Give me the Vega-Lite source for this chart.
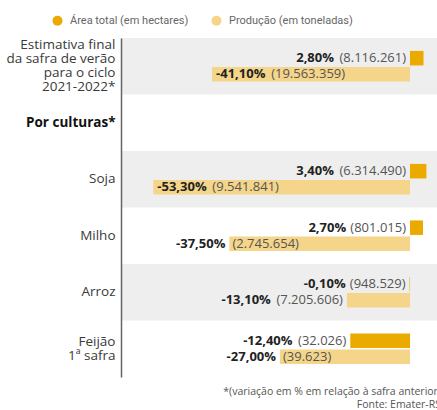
{
  "$schema": "https://vega.github.io/schema/vega-lite/v6.json",
  "width": 316,
  "height": 339,
  "autosize": {"type": "none"},
  "padding": {"left": 121, "top": 38, "right": 0, "bottom": 33},
  "background": "white",
  "config": {"view": {"stroke": null}, "font": "Open Sans"},
  "title": {
    "text": ["*(variação em % em relação à safra anterior)", "Fonte: Emater-RS"],
    "orient": "bottom",
    "anchor": "end",
    "fontSize": 10.5,
    "fontWeight": "normal",
    "color": "#555555",
    "font": "Open Sans",
    "offset": 10,
    "lineHeight": 13,
    "dx": 4
  },
  "datasets": {
    "rows": [
      {"row": "Estimativa final|da safra de verão|para o ciclo|2021-2022*", "shade": true},
      {"row": "Por culturas*", "shade": false},
      {"row": "Soja", "shade": true},
      {"row": "Milho", "shade": false},
      {"row": "Arroz", "shade": true},
      {"row": "Feijão|1ª safra", "shade": false}
    ],
    "bars": [
      {"row": "Estimativa final|da safra de verão|para o ciclo|2021-2022*", "series": "Área total (em hectares)", "value": 2.8, "pct": "2,80%", "num": "(8.116.261)"},
      {"row": "Estimativa final|da safra de verão|para o ciclo|2021-2022*", "series": "Produção (em toneladas)", "value": -41.1, "pct": "-41,10%", "num": "(19.563.359)"},
      {"row": "Soja", "series": "Área total (em hectares)", "value": 3.4, "pct": "3,40%", "num": "(6.314.490)"},
      {"row": "Soja", "series": "Produção (em toneladas)", "value": -53.3, "pct": "-53,30%", "num": "(9.541.841)"},
      {"row": "Milho", "series": "Área total (em hectares)", "value": 2.7, "pct": "2,70%", "num": "(801.015)"},
      {"row": "Milho", "series": "Produção (em toneladas)", "value": -37.5, "pct": "-37,50%", "num": "(2.745.654)"},
      {"row": "Arroz", "series": "Área total (em hectares)", "value": -0.1, "pct": "-0,10%", "num": "(948.529)"},
      {"row": "Arroz", "series": "Produção (em toneladas)", "value": -13.1, "pct": "-13,10%", "num": "(7.205.606)"},
      {"row": "Feijão|1ª safra", "series": "Área total (em hectares)", "value": -12.4, "pct": "-12,40%", "num": "(32.026)"},
      {"row": "Feijão|1ª safra", "series": "Produção (em toneladas)", "value": -27.0, "pct": "-27,00%", "num": "(39.623)"}
    ]
  },
  "encoding": {
    "y": {
      "field": "row",
      "type": "nominal",
      "sort": null,
      "scale": {
        "domain": [
          "Estimativa final|da safra de verão|para o ciclo|2021-2022*",
          "Por culturas*",
          "Soja",
          "Milho",
          "Arroz",
          "Feijão|1ª safra"
        ],
        "paddingInner": 0,
        "paddingOuter": 0
      },
      "axis": {
        "title": null,
        "ticks": false,
        "domainColor": "#666666",
        "domainWidth": 1.5,
        "labelFont": "Open Sans",
        "labelFontSize": 13.5,
        "labelColor": {"condition": {"test": "datum.value === 'Por culturas*'", "value": "#111111"}, "value": "#3a3a3a"},
        "labelFontWeight": {"condition": {"test": "datum.value === 'Por culturas*'", "value": "bold"}, "value": "normal"},
        "labelOffset": {"condition": [
          {"test": "datum.value === 'Estimativa final|da safra de verão|para o ciclo|2021-2022*'", "value": -21},
          {"test": "datum.value === 'Feijão|1ª safra'", "value": -7}
        ], "value": 0},
        "labelPadding": 6,
        "labelLimit": 200,
        "labelLineHeight": 14,
        "labelExpr": "split(datum.label, '|')"
      }
    }
  },
  "layer": [
    {
      "data": {"name": "rows"},
      "transform": [{"filter": "datum.shade"}],
      "mark": {"type": "rect", "color": "#EEEEEE"}
    },
    {
      "data": {"name": "bars"},
      "mark": {"type": "bar"},
      "encoding": {
        "x": {"field": "value", "type": "quantitative", "scale": {"domain": [-60, 5.6], "nice": false, "zero": false}, "axis": null},
        "x2": {"datum": 0},
        "yOffset": {"field": "series", "type": "nominal", "scale": {"domain": ["Área total (em hectares)", "Produção (em toneladas)"], "paddingInner": 0.1, "paddingOuter": 0.8}},
        "color": {
          "field": "series",
          "type": "nominal",
          "scale": {"domain": ["Área total (em hectares)", "Produção (em toneladas)"], "range": ["#EBAA00", "#F4D58A"]},
          "legend": {
            "title": null,
            "orient": "none",
            "direction": "horizontal",
            "legendX": -69,
            "legendY": -23,
            "symbolType": "circle",
            "symbolSize": 100,
            "symbolStrokeWidth": 0,
            "labelFont": "Roboto",
            "labelFontSize": 11,
            "labelColor": "#666666",
            "labelOffset": 7,
            "columnPadding": 22
          }
        }
      }
    },
    {
      "data": {"values": [{}]},
      "mark": {"type": "rule", "color": "#666666", "strokeWidth": 1.5},
      "encoding": {"x": {"datum": 0}}
    },
    {
      "data": {"name": "bars"},
      "transform": [{"filter": "datum.series === 'Área total (em hectares)' && datum.value > 0"}],
      "layer": [
        {
          "mark": {"type": "text", "align": "right", "baseline": "middle", "dx": -4, "fontSize": 13, "color": "#555555"},
          "encoding": {"x": {"datum": 0}, "yOffset": {"field": "series", "type": "nominal"}, "text": {"field": "num"}}
        },
        {
          "mark": {"type": "text", "align": "right", "baseline": "middle", "dx": {"expr": "-(length(datum.num) * 6.1 + 9)"}, "fontSize": 13, "fontWeight": "bold", "color": "#222222"},
          "encoding": {"x": {"datum": 0}, "yOffset": {"field": "series", "type": "nominal"}, "text": {"field": "pct"}}
        }
      ]
    },
    {
      "data": {"name": "bars"},
      "transform": [{"filter": "(datum.series === 'Área total (em hectares)' && datum.value <= 0) || (datum.series === 'Produção (em toneladas)' && datum.value >= -20)"}],
      "layer": [
        {
          "mark": {"type": "text", "align": "right", "baseline": "middle", "dx": -4, "fontSize": 13, "color": "#555555"},
          "encoding": {"x": {"field": "value", "type": "quantitative"}, "yOffset": {"field": "series", "type": "nominal"}, "text": {"field": "num"}}
        },
        {
          "mark": {"type": "text", "align": "right", "baseline": "middle", "dx": {"expr": "-(length(datum.num) * 6.1 + 9)"}, "fontSize": 13, "fontWeight": "bold", "color": "#222222"},
          "encoding": {"x": {"field": "value", "type": "quantitative"}, "yOffset": {"field": "series", "type": "nominal"}, "text": {"field": "pct"}}
        }
      ]
    },
    {
      "data": {"name": "bars"},
      "transform": [{"filter": "datum.series === 'Produção (em toneladas)' && datum.value < -40"}],
      "layer": [
        {
          "mark": {"type": "text", "align": "left", "baseline": "middle", "dx": 4, "fontSize": 13, "fontWeight": "bold", "color": "#222222"},
          "encoding": {"x": {"field": "value", "type": "quantitative"}, "yOffset": {"field": "series", "type": "nominal"}, "text": {"field": "pct"}}
        },
        {
          "mark": {"type": "text", "align": "left", "baseline": "middle", "dx": {"expr": "length(datum.pct) * 7.3 + 8"}, "fontSize": 13, "color": "#555555"},
          "encoding": {"x": {"field": "value", "type": "quantitative"}, "yOffset": {"field": "series", "type": "nominal"}, "text": {"field": "num"}}
        }
      ]
    },
    {
      "data": {"name": "bars"},
      "transform": [{"filter": "datum.series === 'Produção (em toneladas)' && datum.value >= -40 && datum.value < -20"}],
      "layer": [
        {
          "mark": {"type": "text", "align": "right", "baseline": "middle", "dx": -4, "fontSize": 13, "fontWeight": "bold", "color": "#222222"},
          "encoding": {"x": {"field": "value", "type": "quantitative"}, "yOffset": {"field": "series", "type": "nominal"}, "text": {"field": "pct"}}
        },
        {
          "mark": {"type": "text", "align": "left", "baseline": "middle", "dx": 3, "fontSize": 13, "color": "#555555"},
          "encoding": {"x": {"field": "value", "type": "quantitative"}, "yOffset": {"field": "series", "type": "nominal"}, "text": {"field": "num"}}
        }
      ]
    }
  ]
}
